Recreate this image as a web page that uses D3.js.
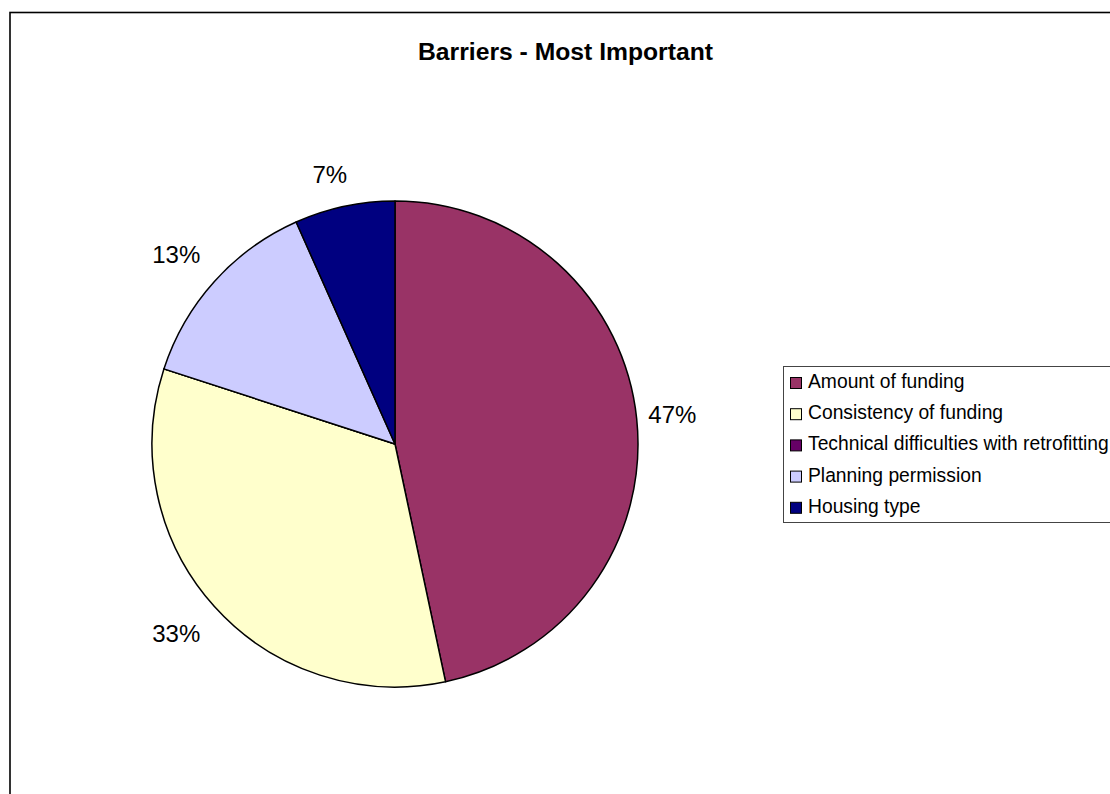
<!DOCTYPE html>
<html>
<head>
<meta charset="utf-8">
<script src="https://cdn.jsdelivr.net/npm/d3@7"></script>
<style>
  html, body { margin: 0; padding: 0; background: #fff; }
  svg { display: block; }
  text { font-family: Arial, "Liberation Sans", sans-serif; }
</style>
</head>
<body>
<svg id="chart" width="1110" height="794"></svg>
<script>
// Survey responses: most important barrier (counts)
const categories = [
  "Amount of funding",
  "Consistency of funding",
  "Technical difficulties with retrofitting",
  "Planning permission",
  "Housing type"
];
const counts = [7, 5, 0, 2, 1];
const colors = ["#993366", "#FFFFCC", "#660066", "#CCCCFF", "#000080"];
const title = "Barriers - Most Important";

const svg = d3.select("#chart");
const W = 1110, H = 794;

// Chart frame
svg.append("rect")
  .attr("x", 10).attr("y", 12.5)
  .attr("width", W + 50).attr("height", H + 50)
  .attr("fill", "#fff")
  .attr("stroke", "#000")
  .attr("stroke-width", 1.6);

// Title
svg.append("text")
  .attr("x", 565.5).attr("y", 60)
  .attr("text-anchor", "middle")
  .attr("font-size", 24.7)
  .attr("font-weight", "bold")
  .attr("fill", "#000")
  .text(title);

// Pie
const cx = 395, cy = 444, R = 243;
const total = d3.sum(counts);
const data = categories.map((c, i) => ({ name: c, value: counts[i], color: colors[i] }));
const pie = d3.pie().sort(null).value(d => d.value);
const arcs = pie(data);
const arc = d3.arc().innerRadius(0).outerRadius(R);

const g = svg.append("g").attr("transform", `translate(${cx},${cy})`);
g.selectAll("path.slice")
  .data(arcs)
  .join("path")
  .attr("class", "slice")
  .attr("d", arc)
  .attr("fill", d => d.data.color)
  .attr("stroke", "#000")
  .attr("stroke-width", 1.5)
  .attr("stroke-linejoin", "round");

// Percentage labels placed outside the pie
const fmt = d3.format(".0%");
const labelFont = 24, pad = 10, halfH = 19, leftShift = 8;
g.selectAll("text.pct")
  .data(arcs.filter(d => d.data.value > 0))
  .join("text")
  .attr("class", "pct")
  .attr("font-size", labelFont)
  .attr("fill", "#000")
  .attr("text-anchor", "middle")
  .attr("dy", "0.35em")
  .text(d => fmt(d.data.value / total))
  .each(function (d) {
    const a = (d.startAngle + d.endAngle) / 2;
    const s = Math.sin(a), c = -Math.cos(a);
    const halfW = this.getComputedTextLength() / 2;
    const r = R + pad + Math.abs(s) * halfW + Math.abs(c) * halfH;
    const x = s * r - (s < 0 ? leftShift : 0);
    d3.select(this).attr("x", x).attr("y", c * r);
  });

// Legend
const lx = 783, ly = 366, rowH = 31.2;
svg.append("rect")
  .attr("x", lx + 0.5).attr("y", ly + 0.5)
  .attr("width", 400).attr("height", 156)
  .attr("fill", "#fff")
  .attr("stroke", "#444")
  .attr("stroke-width", 1);

const items = svg.append("g")
  .selectAll("g")
  .data(data)
  .join("g")
  .attr("transform", (d, i) => `translate(${lx}, ${ly + 15 + i * rowH})`);

items.append("rect")
  .attr("x", 7.5).attr("y", -3.5)
  .attr("width", 11).attr("height", 11)
  .attr("fill", d => d.color)
  .attr("stroke", "#000")
  .attr("stroke-width", 1);

items.append("text")
  .attr("x", 25).attr("y", 7)
  .attr("font-size", 19.3)
  .attr("fill", "#000")
  .text(d => d.name);
</script>
</body>
</html>
